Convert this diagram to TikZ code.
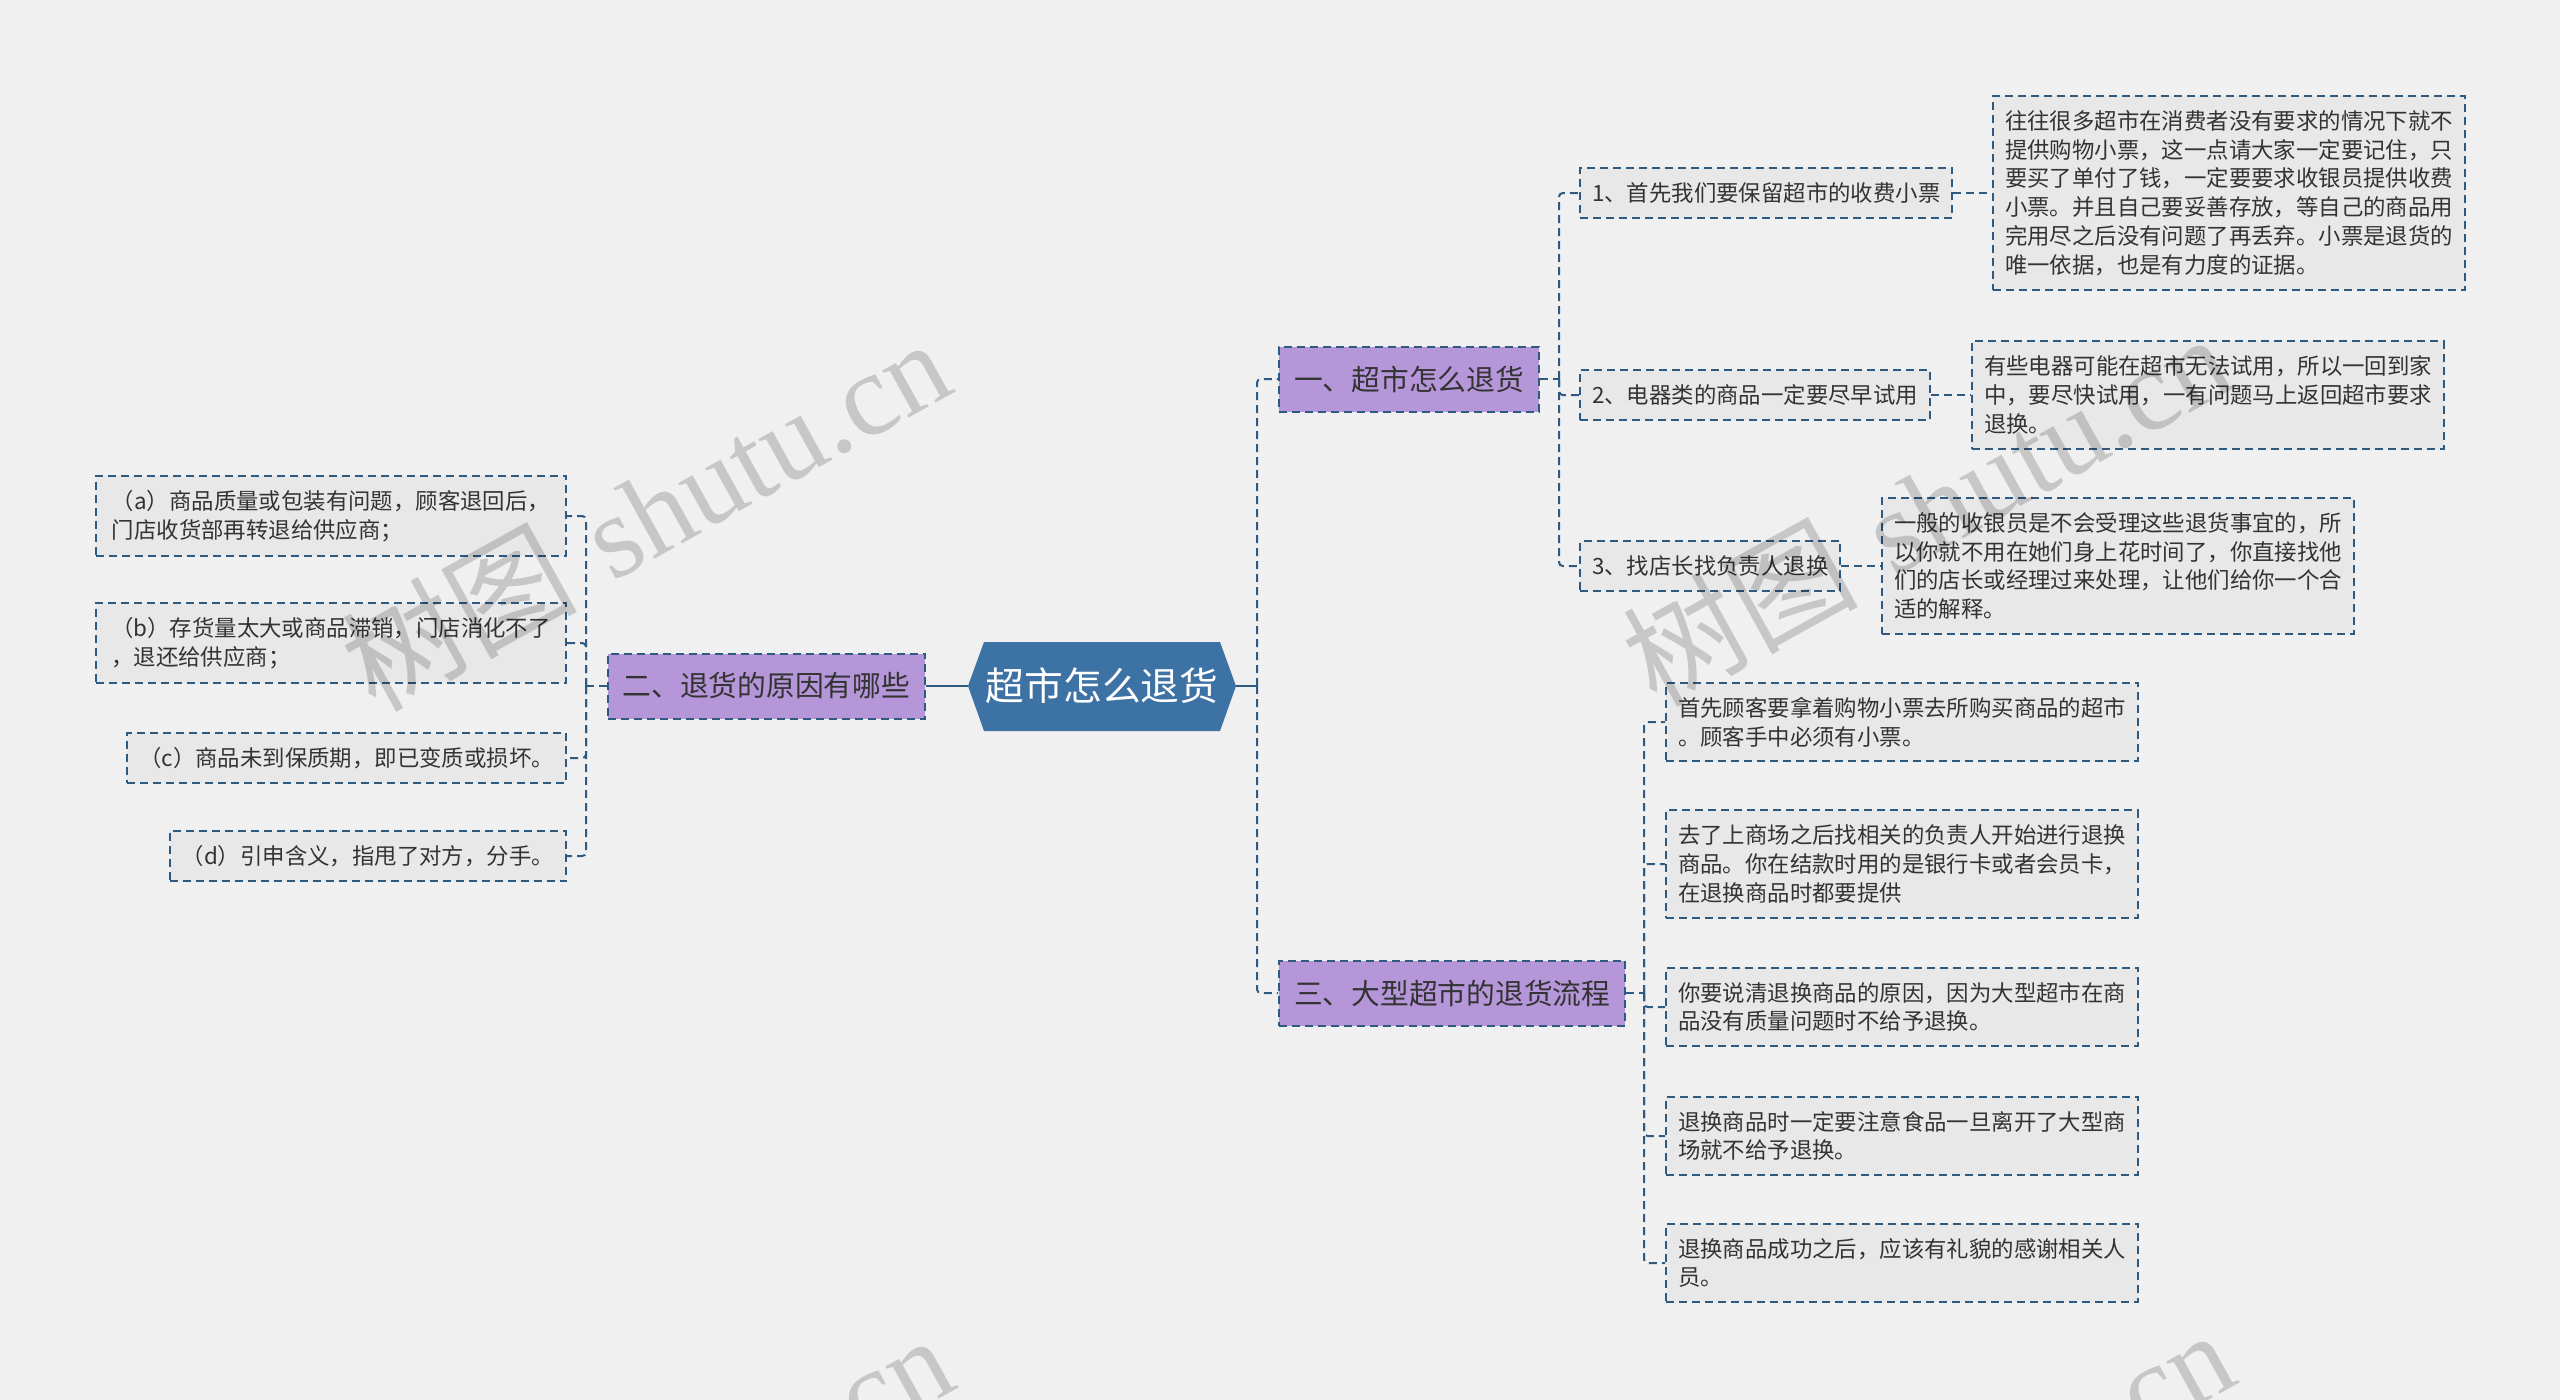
\documentclass[tikz,border=0pt]{standalone}
\usepackage{fontspec}
\newfontfamily\cjk{Noto Sans CJK SC}
\newfontfamily\wmlatin{Liberation Serif}
\usetikzlibrary{calc}
\definecolor{bgc}{HTML}{F0F0F0}
\definecolor{linec}{HTML}{2E5A82}
\definecolor{purp}{HTML}{B596D9}
\definecolor{rootc}{HTML}{3D72A4}
\definecolor{leafc}{HTML}{E8E8E8}
\definecolor{txt}{HTML}{333333}
\begin{document}
\begin{tikzpicture}[x=0.4pt,y=-0.4pt,
  dsh/.style={dash pattern=on 3.2pt off 2pt},
  conn/.style={draw=linec, line width=0.8pt, dsh, rounded corners=1.5pt},
  solidconn/.style={draw=linec, line width=0.8pt},
  branch/.style={draw=linec, line width=0.8pt, dsh, fill=purp, text=txt, font=\cjk\fontsize{11.5}{14}\selectfont, inner xsep=6pt, inner ysep=3pt, minimum height=26pt},
  sub/.style={draw=linec, line width=0.8pt, dsh, fill=leafc, text=txt, font=\cjk\fontsize{8.96}{11.5}\selectfont, inner xsep=4.8pt, inner ysep=5.8pt, align=left},
  leaf/.style={sub, minimum width=188pt},
  roottext/.style={text=white, font=\cjk\fontsize{15.5}{18}\selectfont},
  wm/.style={rotate=29, text=black, text opacity=0.17, font=\fontsize{47}{52}\selectfont}
]
\useasboundingbox (0,0) rectangle (2560,1400);
\clip (0,0) rectangle (2560,1400);
\fill[bgc] (0,0) rectangle (2560,1400);

% root
\fill[rootc] (968,686) -- (984,642) -- (1220,642) -- (1236,686) -- (1220,731) -- (984,731) -- cycle;
\node[roottext] (root) at (1102,686) {超市怎么退货};
\coordinate (rootL) at (968,686);
\coordinate (rootR) at (1236,686);
\coordinate (jR) at (1257,686);

% branches
\node[branch, anchor=west] (b1) at (1278,379) {一、超市怎么退货};
\node[branch, anchor=east] (b2) at (926,686) {二、退货的原因有哪些};
\node[branch, anchor=west] (b3) at (1278,993) {三、大型超市的退货流程};

% branch 1 children
\node[sub, anchor=west] (s1) at (1579,193) {1、首先我们要保留超市的收费小票};
\node[sub, anchor=west] (s2) at (1579,395) {2、电器类的商品一定要尽早试用};
\node[sub, anchor=west] (s3) at (1579,566) {3、找店长找负责人退换};

\node[leaf, anchor=west] (l1) at (1992,193) {往往很多超市在消费者没有要求的情况下就不\\提供购物小票，这一点请大家一定要记住，只\\要买了单付了钱，一定要要求收银员提供收费\\小票。并且自己要妥善存放，等自己的商品用\\完用尽之后没有问题了再丢弃。小票是退货的\\唯一依据，也是有力度的证据。};
\node[leaf, anchor=west] (l2) at (1971,395) {有些电器可能在超市无法试用，所以一回到家\\中，要尽快试用，一有问题马上返回超市要求\\退换。};
\node[leaf, anchor=west] (l3) at (1881,566) {一般的收银员是不会受理这些退货事宜的，所\\以你就不用在她们身上花时间了，你直接找他\\们的店长或经理过来处理，让他们给你一个合\\适的解释。};

% branch 2 children
\node[leaf, anchor=east] (a1) at (567,516) {（a）商品质量或包装有问题，顾客退回后，\\门店收货部再转退给供应商；};
\node[leaf, anchor=east] (a2) at (567,643) {（b）存货量太大或商品滞销，门店消化不了\\，退还给供应商；};
\node[sub, anchor=east] (a3) at (567,758) {（c）商品未到保质期，即已变质或损坏。};
\node[sub, anchor=east] (a4) at (567,856) {（d）引申含义，指甩了对方，分手。};

% branch 3 children
\node[leaf, anchor=west] (c1) at (1665,722) {首先顾客要拿着购物小票去所购买商品的超市\\。顾客手中必须有小票。};
\node[leaf, anchor=west] (c2) at (1665,864) {去了上商场之后找相关的负责人开始进行退换\\商品。你在结款时用的是银行卡或者会员卡，\\在退换商品时都要提供};
\node[leaf, anchor=west] (c3) at (1665,1007) {你要说清退换商品的原因，因为大型超市在商\\品没有质量问题时不给予退换。};
\node[leaf, anchor=west] (c4) at (1665,1136) {退换商品时一定要注意食品一旦离开了大型商\\场就不给予退换。};
\node[leaf, anchor=west] (c5) at (1665,1263) {退换商品成功之后，应该有礼貌的感谢相关人\\员。};

% connectors
\draw[solidconn] (rootL) -- (b2.east);
\draw[solidconn] (rootR) -- (jR);
\draw[conn] (jR) |- (b1.west);
\draw[conn] (jR) |- (b3.west);

\coordinate (j1) at (1559,379);
\draw[conn] (b1.east) -- (j1);
\draw[conn] (j1) |- (s1.west);
\draw[conn] (j1) |- (s2.west);
\draw[conn] (j1) |- (s3.west);
\draw[conn] (s1.east) -- (l1.west);
\draw[conn] (s2.east) -- (l2.west);
\draw[conn] (s3.east) -- (l3.west);

\coordinate (j2) at (586,686);
\draw[conn] (b2.west) -- (j2);
\draw[conn] (j2) |- (a1.east);
\draw[conn] (j2) |- (a2.east);
\draw[conn] (j2) |- (a3.east);
\draw[conn] (j2) |- (a4.east);

\coordinate (j3) at (1644,993);
\draw[conn] (b3.east) -- (j3);
\draw[conn] (j3) |- (c1.west);
\draw[conn] (j3) |- (c2.west);
\draw[conn] (j3) |- (c3.west);
\draw[conn] (j3) |- (c4.west);
\draw[conn] (j3) |- (c5.west);

% watermarks
\node[wm] (w1) at (645,513) {{\cjk 树图} {\wmlatin shutu.cn}};
\node[wm] (w2) at (1926,508) {{\cjk 树图} {\wmlatin shutu.cn}};
\node[wm] (w3) at (648,1509) {{\cjk 树图} {\wmlatin shutu.cn}};
\node[wm] (w4) at (1929,1504) {{\cjk 树图} {\wmlatin shutu.cn}};
\end{tikzpicture}
\end{document}
